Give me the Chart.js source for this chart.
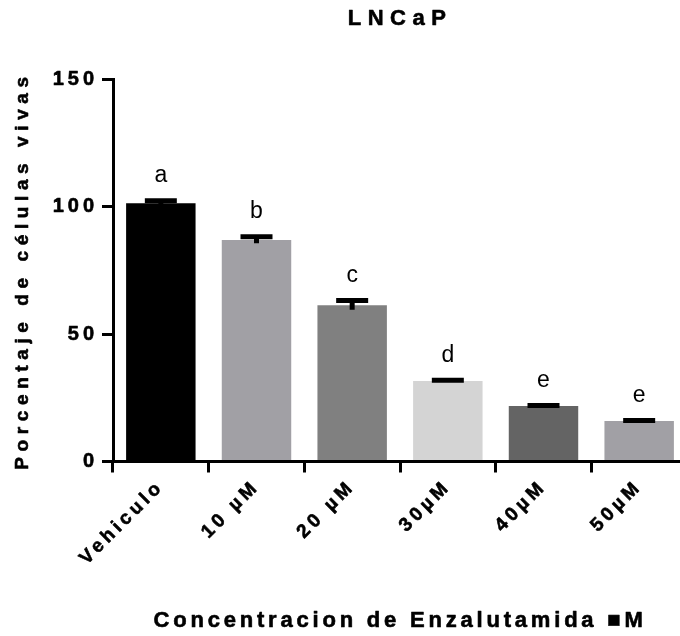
<!DOCTYPE html>
<html>
<head>
<meta charset="utf-8">
<script src="https://cdn.jsdelivr.net/npm/chart.js@4"></script>
<style>
  html, body { margin: 0; padding: 0; background: #fff; overflow: hidden; }
  #wrap { width: 690px; height: 636px; }
</style>
</head>
<body>
<div id="wrap"><canvas id="chart"></canvas></div>
<script>
// data
const categories = ["Vehiculo", "10 \u00b5M", "20 \u00b5M", "30\u00b5M", "40\u00b5M", "50\u00b5M"];
const means = [101.4, 87.0, 61.4, 31.6, 21.8, 15.9];
const sems = [1.0, 1.3, 1.8, 0.3, 0.2, 0.2];
const letters = ["a", "b", "c", "d", "e", "e"];
const barColors = ["#000000", "#a1a0a5", "#808080", "#d4d4d4", "#646464", "#a1a0a5"];
const yMin = 0, yMax = 150, yStep = 50;

const titleText = "LNCaP";
const xTitle = "Concentracion de Enzalutamida \u25a0M";
const yTitle = "Porcentaje de c\u00e9lulas vivas";

const FONT = '"Liberation Sans", Arial, sans-serif';

// GraphPad style wide letter spacing, per text
const spacing = {};
spacing[titleText] = "6.5px";
spacing[xTitle] = "3.8px";
spacing[yTitle] = "5.6px";
letters.forEach(l => spacing[l] = "0px");
const tickSpacing = "4px";

const spacedText = {
  id: "spacedText",
  beforeInit(chart) {
    const ctx = chart.ctx;
    const orig = ctx.fillText;
    const origStroke = ctx.strokeText;
    ctx.fillText = function(text, x, y) {
      this.letterSpacing = spacing[text] !== undefined ? spacing[text] : tickSpacing;
      orig.call(this, text, x, y);
      // the exported figure's bold text is a bit heavier than Liberation bold
      if (this.font.indexOf("bold") === 0) {
        this.save();
        this.strokeStyle = this.fillStyle;
        this.lineWidth = 0.6;
        this.lineJoin = "round";
        origStroke.call(this, text, x, y);
        this.restore();
      }
      this.letterSpacing = "0px";
    };
  }
};

const errorBars = {
  id: "errorBars",
  afterDatasetsDraw(chart) {
    const ctx = chart.ctx;
    const meta = chart.getDatasetMeta(0);
    const y = chart.scales.y;
    ctx.save();
    ctx.strokeStyle = "#000";
    ctx.fillStyle = "#000";
    ctx.lineWidth = 5;
    meta.data.forEach((bar, i) => {
      const top = y.getPixelForValue(means[i] + sems[i]);
      const bot = y.getPixelForValue(means[i] - sems[i]);
      ctx.beginPath();
      ctx.moveTo(bar.x, bot);
      ctx.lineTo(bar.x, top);
      ctx.moveTo(bar.x - 16, top);
      ctx.lineTo(bar.x + 16, top);
      ctx.stroke();
      ctx.font = "23px " + FONT;
      ctx.textAlign = "center";
      ctx.textBaseline = "alphabetic";
      ctx.fillText(letters[i], bar.x, top - 18.5);
    });
    ctx.restore();
  }
};

new Chart(document.getElementById("chart"), {
  type: "bar",
  data: {
    labels: categories,
    datasets: [{
      data: means,
      backgroundColor: barColors,
      borderWidth: 0,
      barPercentage: 0.726,
      categoryPercentage: 1
    }]
  },
  options: {
    responsive: true,
    maintainAspectRatio: false,
    animation: false,
    layout: { padding: { top: 0, left: 0, right: 3, bottom: 0 } },
    plugins: {
      legend: { display: false },
      tooltip: { enabled: false },
      title: {
        display: true,
        text: titleText,
        fullSize: false,
        color: "#000",
        font: { family: FONT, size: 22, weight: "bold" },
        padding: { top: 5.8, bottom: 47.3 }
      }
    },
    scales: {
      x: {
        z: 1,
        afterFit(s) { s.height = 174.5; },
        grid: { display: true, drawOnChartArea: false, drawTicks: true, tickLength: 11, color: "#000", lineWidth: 3 },
        border: { display: true, color: "#000", width: 3 },
        ticks: {
          color: "#000",
          minRotation: 45,
          maxRotation: 45,
          padding: 3,
          font: { family: FONT, size: 19, weight: "bold" }
        },
        title: {
          display: true,
          text: xTitle,
          color: "#000",
          font: { family: FONT, size: 22, weight: "bold" },
          padding: { top: 0, bottom: 1.8 }
        }
      },
      y: {
        min: yMin,
        max: yMax,
        afterFit(s) { s.width = 113; },
        grid: { display: true, drawOnChartArea: false, drawTicks: true, tickLength: 11, color: "#000", lineWidth: 3 },
        border: { display: true, color: "#000", width: 3 },
        ticks: {
          stepSize: yStep,
          color: "#000",
          padding: 4,
          font: { family: FONT, size: 20, weight: "bold" }
        },
        title: {
          display: true,
          text: yTitle,
          color: "#000",
          font: { family: FONT, size: 19, weight: "bold" },
          padding: { top: 11.6, bottom: 0 }
        }
      }
    }
  },
  plugins: [spacedText, errorBars]
});
</script>
</body>
</html>
